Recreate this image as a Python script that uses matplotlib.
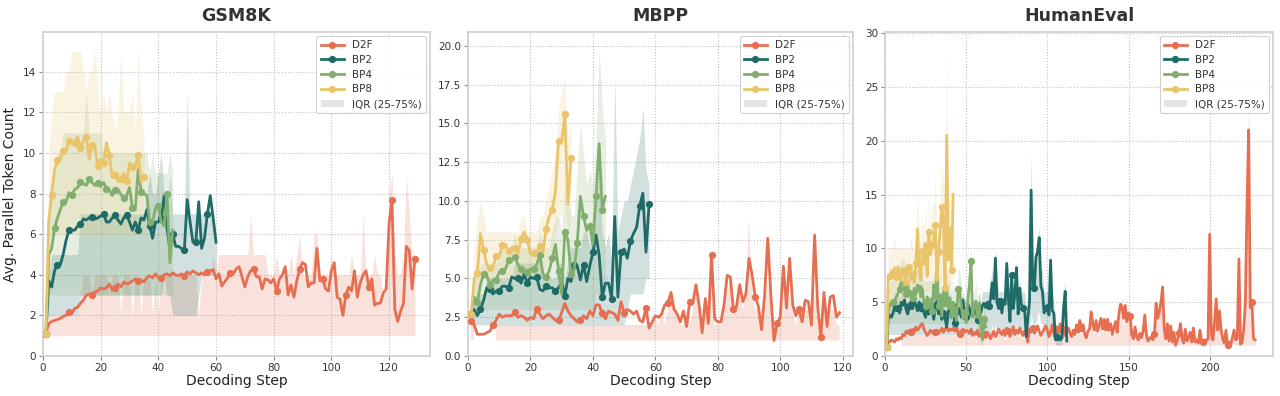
import numpy as np
import matplotlib
matplotlib.use("Agg")
import matplotlib.pyplot as plt
from matplotlib.lines import Line2D
from matplotlib.patches import Patch

nan = np.nan

titles = ["GSM8K", "MBPP", "HumanEval"]
series_names = ["D2F", "BP2", "BP4", "BP8"]
colors = {"D2F": "#E76F51", "BP2": "#1F6B68", "BP4": "#82AF6E", "BP8": "#E9C46A"}

# ---------------- GSM8K ----------------
gsm_d2f = [1.1, 1.6, 1.7, 1.75, 1.8, 1.85, 1.95, 2.0, 2.15, 2.1,
           2.35, 2.4, 2.6, 2.75, 3.0, 3.05, 3.0, 3.15, 3.2, 3.35,
           3.3, 3.35, 3.55, 3.25, 3.35, 3.55, 3.4, 3.65, 3.55, 3.6,
           3.7, 3.8, 3.7, 3.75, 3.65, 3.85, 3.95, 3.85, 4.05, 3.85,
           3.85, 4.0, 4.05, 3.95, 4.1, 4.0, 3.95, 4.05, 3.95, 4.15,
           4.05, 4.2, 4.1, 4.0, 4.1, 4.0, 4.15, 4.2, 4.25, 3.8,
           4.05, 3.45, 3.65, 3.85, 4.1, 4.05, 4.3, 4.4, 3.9, 3.4,
           3.9, 4.2, 4.3, 3.9, 3.9, 3.3, 3.8, 3.75, 3.6, 3.8,
           3.2, 3.8, 4.0, 4.4, 3.0, 3.5, 2.9, 3.7, 4.3, 4.6,
           4.5, 3.4, 3.6, 3.6, 5.3, 3.7, 3.8, 3.3, 3.2, 4.2,
           4.6, 2.9, 2.8, 2.0, 3.0, 3.4, 3.2, 4.2, 2.9, 3.6,
           4.0, 4.2, 3.4, 3.8, 2.5, 2.6, 2.6, 3.1, 3.3, 6.5,
           7.7, 2.3, 1.7, 2.2, 2.6, 5.4, 5.2, 3.3, 4.8]
gsm_d2f_q1 = [1.1] + [1] * 128
gsm_d2f_q3 = [1.1, 2, 2, 2, 2, 2, 2, 2, 2, 2, 2, 2,
              3, 4, 4, 4, 3, 4, 4, 4, 4, 4, 3, 4,
              4, 4, 2, 4, 4, 4, 2, 4, 4, 2, 4, 4,
              4, 2, 4, 2, 4, 4, 4, 4, 4, 4, 4, 4,
              4, 4, 4, 4, 4, 2, 4, 4, 4, 4, 5,
              4, 5, 5, 5, 5, 5, 5, 5, 5, 5, 5, 5,
              7, 5, 5, 5, 5, 5, 4, 4, 4, 5, 4, 4,
              4, 4, 5, 4, 5, 6, 4, 4, 4, 4, 6, 6,
              4, 4, 4, 4, 5, 4, 4, 4, 4, 4, 4, 5,
              4, 4, 4, 7, 4, 4, 4, 5, 4, 4, 3, 4,
              8, 9, 5, 4, 4, 5, 9, 7, 5, 5]

gsm_bp2 = [1.1, 3.7, 3.4, 4.2, 4.5, 4.5, 5.0, 5.7, 6.2, 6.2,
           6.2, 6.4, 6.5, 6.75, 6.7, 6.8, 6.85, 6.75, 6.8, 6.9,
           7.0, 6.6, 6.6, 6.8, 6.95, 6.7, 6.5, 6.8, 6.95, 6.6,
           6.2, 6.6, 6.2, 6.8, 6.7, 7.2, 6.4, 5.8, 6.6, 6.6,
           6.8, 7.9, 6.3, 5.3, 6.0, 5.4, 5.4, 5.3, 5.2, 7.7,
           6.6, 5.6, 5.6, 7.6, 5.3, 5.8, 7.0, 7.9, 6.8, 5.6]
gsm_bp2_q1 = [1.1, 2, 2, 2, 2, 2, 2, 2, 2, 2, 2, 2,
              3, 3, 3, 3, 3, 3, 3, 3, 3, 3, 3, 3,
              3, 3, 3, 3, 3, 3, 3, 3, 3, 3, 3, 3,
              3, 3, 3, 3, 3, 4, 3, 3, 2, 2, 2, 2,
              2, 2, 2, 2, 2, 3, 4, 4, 4, 4, 4, 4]
gsm_bp2_q3 = [1.1, 4, 5, 5, 5, 5, 5, 5, 5, 5, 5, 5,
              7, 7, 7, 7, 7, 7, 7, 7, 7, 7, 7, 7,
              7, 7, 7, 7, 7, 7, 7, 7, 7, 7, 7, 8,
              9, 8, 8, 9, 10, 8, 7, 9, 7, 7, 7, 7,
              7, 13, 7, 7, 7, 7, 7, 7, 7, 7, 7, 6]

gsm_bp4 = [1.1, 5.0, 5.3, 6.3, 6.8, 7.2, 7.6, 7.6, 8.05, 7.95,
           8.2, 8.3, 8.55, 8.5, 8.4, 8.7, 8.55, 8.4, 8.5, 8.35,
           8.55, 8.25, 8.2, 7.9, 8.2, 8.2, 7.95, 7.8, 7.9, 8.3,
           7.3, 7.2, 9.2, 8.1, 8.0, 7.9, 6.6, 6.6, 7.3, 7.4,
           6.6, 6.4, 8.0, 4.6, 6.2]
gsm_bp4_q1 = [1.1] + [3] * 44
gsm_bp4_q3 = [1.1, 7, 8, 9, 10, 10, 11, 11, 11, 11, 11, 11,
              11, 11, 13, 11, 11, 11, 11, 11, 10, 10, 10, 10,
              10, 10, 10, 10, 10, 10, 10, 10, 10, 10, 10, 10,
              9, 10, 9, 9, 9, 9, 9, 10, 9]

gsm_bp8 = [1.1, 6.7, 7.95, 9.2, 9.65, 9.7, 10.1, 10.1, 10.6, 10.55,
           10.5, 10.8, 10.25, 10.6, 10.8, 9.7, 10.4, 10.3, 9.35, 9.7,
           9.5, 10.5, 9.9, 8.8, 8.9, 8.6, 8.7, 9.0, 8.6, 9.5,
           9.3, 9.3, 9.9, 8.6, 8.8]
gsm_bp8_q1 = [1.1] + [6] * 34
gsm_bp8_q3 = [1.1, 10, 12, 13, 13, 13, 13, 14, 14, 15, 15, 15,
              15, 14, 13, 14, 14, 15, 13, 12, 13, 12, 13, 12,
              11, 12, 15, 12, 12, 12, 13, 11, 15.2, 12, 11]

# ---------------- MBPP ----------------
mbpp_d2f = [2.26, 2.0, 1.4, 1.4, 1.4, 1.5, 1.6, 2.0, 2.3, 2.7,
            2.5, 2.6, 2.6, 2.6, 2.85, 2.5, 2.6, 2.5, 2.3, 2.5,
            2.4, 3.0, 2.7, 2.4, 2.6, 2.7, 2.5, 2.3, 2.3, 2.8,
            3.4, 2.9, 2.6, 2.4, 2.2, 2.3, 2.6, 2.4, 2.9, 2.6,
            3.3, 3.3, 2.75, 2.4, 2.9, 2.8, 2.7, 2.3, 3.5, 2.8,
            3.0, 2.9, 2.7, 2.9, 2.3, 2.2, 3.1, 1.8, 2.2, 2.6,
            2.5, 2.7, 3.3, 3.4, 4.1, 3.0, 2.7, 2.2, 2.9, 1.9,
            3.5, 3.4, 4.6, 3.3, 1.5, 3.7, 2.1, 6.5, 2.4, 2.2,
            2.2, 3.3, 5.2, 5.1, 3.0, 3.2, 4.6, 3.5, 4.0, 6.3,
            5.2, 3.8, 3.2, 1.7, 3.9, 7.6, 3.9, 1.0, 2.1, 2.5,
            5.8, 3.1, 6.3, 3.3, 2.6, 3.0, 2.2, 3.6, 3.5, 2.0,
            7.8, 3.2, 1.2, 4.1, 1.9, 3.8, 3.9, 2.5, 2.8]
mbpp_d2f_q1 = [1, 1, nan, nan, nan, nan, nan, nan] + [1] * 111
mbpp_d2f_q3 = [2, 2, nan, nan, nan, nan, nan, nan, 2, 2, 2, 2,
               2, 2, 2, 2, 2, 2, 2, 2, 2, 2, 2, 2,
               2, 2, 2, 2, 2, 2, 2, 2, 2, 2, 2, 2,
               2, 2, 2, 2, 2, 2, 2, 2, 2, 2, 2, 2,
               2, 2, 2, 2, 2, 2, 2, 2, 2, 2, 2, 2.5,
               2, 3, 2, 3, 4, 3, 3, 2, 2, 3, 2, 3,
               4, 3, 2, 3, 2, 4, 2, 2, 2, 3, 4, 5,
               3, 3, 4, 3, 4, 9, 4, 3, 3, 2, 3, 5,
               3, 1, 2, 2, 4, 3, 4, 3, 2, 3, 2, 3,
               3, 3, 4, 3, 1, 3, 2, 3, 3, 2, 2]

mbpp_bp2 = [2.7, 3.0, 2.6, 3.0, 3.6, 4.4, 4.3, 4.0, 4.2, 4.2,
            4.5, 4.5, 4.4, 5.1, 5.0, 5.0, 4.7, 5.3, 4.7, 5.1,
            5.0, 5.1, 4.3, 4.2, 4.5, 4.4, 4.4, 4.2, 4.4, 4.8,
            3.9, 5.0, 4.8, 5.9, 5.8, 4.9, 5.9, 4.8, 5.8, 6.7,
            7.8, 6.5, 3.8, 4.7, 4.7, 3.7, 9.0, 3.8, 6.7, 6.9,
            6.3, 7.4, 7.9, 8.3, 9.7, 10.5, 6.7, 9.8]
mbpp_bp2_q1 = [2.7] + [2] * 49 + [3, 4, 4, 4, 4, 4, 5, 5]
mbpp_bp2_q3 = [2.7, 3.5, 4, 4, 4, 5, 5, 5, 5, 5, 5, 5,
               5, 5, 6, 6, 6, 6, 6, 6, 6, 6, 6, 5,
               5, 5, 5, 5, 6, 6, 5, 6, 7, 7, 7, 7,
               8, 8, 7, 9, 10, 12, 8, 7, 8, 6, 18, 8,
               9, 10, 10, 11, 12, 13, 14, 16, 12, 11]

mbpp_bp4 = [2.7, 3.8, 3.5, 4.6, 5.3, 5.2, 4.6, 4.9, 4.9, 5.4,
            5.5, 5.6, 6.2, 6.2, 6.4, 5.9, 5.6, 5.5, 5.45, 5.6,
            5.6, 5.9, 6.5, 5.3, 5.1, 5.5, 6.3, 7.2, 5.5, 4.0,
            8.0, 7.5, 5.3, 5.6, 7.3, 10.3, 9.0, 8.1, 8.4, 7.2,
            10.3, 13.7, 9.44, 10.3]
mbpp_bp4_q1 = [2.7] + [3] * 39 + [4, 4, 4, 4]
mbpp_bp4_q3 = [2.7, 5, 5, 6, 6, 6, 6, 6, 6, 7, 7, 7,
               7, 7, 8, 7, 7, 7, 7, 7, 7, 7, 8, 7,
               7, 7, 8, 9, 9, 8, 11, 10, 9, 9, 12, 15,
               13, 11, 12, 11, 14, 19.9, 16, 14]

mbpp_bp8 = [2.7, 5.0, 5.35, 7.9, 6.85, 5.9, 5.67, 5.7, 6.47, 6.4,
            7.18, 7.2, 6.75, 7.0, 6.96, 6.6, 7.54, 8.0, 7.5, 6.6,
            6.64, 6.6, 7.07, 6.7, 8.19, 9.0, 9.44, 10.6, 13.9, 13.8,
            15.6, 9.8, 12.8]
mbpp_bp8_q1 = [2.7, 4, 4, 5, 5, 5, 5, 5, 5, 5, 5, 5,
               5, 5, 5, 5, 5, 5, 5, 5, 5, 5, 5, 5,
               6, 6, 7, 8, 9, 9, 10, 8, 9]
mbpp_bp8_q3 = [2.7, 7, 9, 10, 9, 8, 8, 8, 8, 8, 8, 8,
               8, 8, 8, 8, 9, 9, 8, 8, 8, 8, 9, 9,
               10, 11, 12, 13, 16, 17, 18, 14, 15]

# ---------------- HumanEval ----------------
he_d2f = [0.8, 1.4, 1.3, 1.5, 1.4, 1.3, 1.6, 1.5, 1.7, 1.6,
          2.0, 1.9, 2.3, 2.1, 2.4, 2.2, 2.5, 2.2, 2.7, 2.4,
          2.6, 2.9, 3.0, 2.5, 2.2, 1.9, 2.1, 2.4, 2.2, 2.3,
          2.2, 2.4, 2.1, 2.3, 2.6, 2.2, 2.5, 2.7, 2.3, 2.5,
          2.4, 2.6, 2.3, 2.8, 2.2, 2.0, 2.3, 2.5, 2.2, 2.4,
          2.3, 2.1, 2.5, 1.9, 2.2, 2.0, 2.4, 1.8, 2.1, 2.3,
          2.0, 1.7, 2.2, 1.9, 1.6, 2.0, 2.3, 1.8, 2.1, 2.5,
          2.2, 2.0, 2.4, 1.9, 2.6, 2.3, 1.8, 2.2, 2.7, 2.0,
          2.4, 2.1, 2.6, 2.2, 1.9, 2.3, 2.0, 1.3, 2.5, 2.2,
          2.6, 2.1, 2.4, 2.8, 2.3, 1.9, 2.2, 2.5, 2.8, 2.4,
          1.8, 2.2, 2.9, 2.0, 1.6, 2.5, 2.2, 3.0, 2.1, 2.7,
          1.9, 2.3, 2.6, 2.1, 1.8, 2.4, 2.0, 2.9, 2.2, 3.3,
          2.6, 2.9, 2.0, 1.7, 2.3, 2.5, 4.1, 3.0, 2.4, 3.3,
          2.3, 2.9, 3.5, 2.5, 3.4, 2.7, 3.4, 2.4, 3.0, 2.0,
          2.6, 3.2, 2.2, 3.8, 4.8, 4.6, 3.5, 4.7, 3.2, 4.0,
          3.7, 2.0, 1.6, 2.7, 1.8, 1.5, 2.1, 1.7, 2.3, 3.8,
          2.0, 1.4, 1.6, 1.8, 1.5, 2.0, 4.9, 3.5, 4.1, 5.0,
          6.4, 2.5, 1.6, 3.0, 1.4, 2.8, 1.3, 2.2, 1.0, 1.4,
          2.1, 3.0, 1.6, 1.2, 2.5, 1.4, 1.7, 2.2, 1.3, 2.6,
          1.3, 1.5, 1.2, 2.4, 1.4, 1.3, 1.5, 1.4, 1.6, 11.3,
          2.0, 1.5, 3.2, 5.3, 2.4, 4.2, 2.5, 1.6, 1.2, 2.4,
          1.0, 1.3, 1.1, 1.7, 2.4, 1.5, 1.6, 9.0, 1.1, 1.3,
          2.5, 5.0, 14.0, 21.0, 4.5, 5.0, 1.6, 1.5]
he_d2f_q1 = [nan] * 9 + [1] * 219
he_d2f_q3 = [nan, nan, nan, nan, nan, nan, nan, nan, nan, 2, 2, 2,
             2, 2, 2, 2, 2, 2, 2, 2, 2, 2, 2, 2,
             2, 2, 2, 2, 2, 2, 2, 2, 2, 2, 2, 2,
             2, 2, 2, 2, 2, 2, 2, 2, 2, 2, 2, 2,
             2, 2, 2, 2, 2, 1.5, 2, 2, 2, 1.5, 2, 2,
             2, 1.5, 2, 2, 1.5, 2, 2, 1.5, 2, 2, 2, 2,
             2, 1.5, 2, 2, 1.5, 2, 2, 2, 2, 2, 2, 2,
             1.5, 2, 2, 1.5, 2, 2, 2, 2, 2, 2, 2, 1.5,
             2, 2, 2, 2, 1.5, 2, 2, 2, 1.5, 2, 2, 2,
             2, 2, 1.5, 2, 2, 2, 1.5, 2, 2, 2, 2, 3,
             2, 2, 2, 1.5, 2, 2, 4, 3, 2, 3, 2, 2,
             3, 2, 3, 2, 3, 2, 2, 2, 2, 3, 2, 3,
             5, 5, 3, 5, 3, 4, 3, 2, 1.5, 2, 1.5, 1.5,
             2, 1.5, 2, 3, 2, 1.5, 1.5, 1.5, 1.5, 2, 5, 3,
             4, 5, 7, 2, 1.5, 3, 1.5, 2, 1.5, 2, 1, 1.5,
             2, 3, 1.5, 1, 2, 1.5, 1.5, 2, 1.5, 2, 1.5, 1.5,
             1, 2, 1.5, 1.5, 1.5, 1.5, 1.5, 12, 2, 1.5, 3, 6,
             2, 4, 2, 1.5, 1, 2, 1, 1.5, 1, 1.5, 2, 1.5,
             1.5, 10, 1, 1.5, 2, 5, 15, 25, 6, 5, 1.5, 1.5]

he_bp2 = [0.8, 3.5, 3.8, 3.6, 4.0, 4.7, 4.2, 4.5, 4.0, 5.0,
          4.7, 5.2, 4.3, 3.9, 4.6, 5.0, 4.4, 5.2, 4.7, 4.2,
          5.0, 4.5, 4.8, 4.0, 3.6, 4.4, 3.9, 4.3, 4.7, 3.4,
          4.5, 5.1, 3.9, 4.6, 3.4, 4.0, 3.5, 2.7, 4.1, 4.6,
          3.6, 4.5, 3.1, 4.8, 3.9, 4.4, 3.6, 5.2, 4.0, 3.6,
          4.8, 4.4, 3.8, 4.5, 3.9, 4.2, 3.3, 4.8, 4.0, 4.7,
          4.9, 4.5, 5.0, 4.6, 5.3, 6.8, 5.3, 9.1, 5.0, 4.4,
          5.1, 4.0, 5.2, 4.8, 8.6, 5.3, 3.2, 7.5, 4.4, 5.7,
          8.2, 3.9, 6.3, 4.8, 4.5, 4.4, 1.8, 3.5, 5.0, 15.4,
          6.5, 6.3, 9.2, 9.7, 11.0, 6.5, 6.0, 4.0, 4.5, 4.7,
          3.8, 8.9, 4.2, 4.0, 1.5, 1.8, 1.9, 1.5, 1.7, 4.5,
          6.0, 1.4]
he_bp2_q1 = [0.8, 2, 2, 2, 2, 2, 2, 2, 2, 2, 2, 2,
             2, 2, 2, 2, 2, 2, 2, 2, 2, 2, 2, 2,
             2, 2, 2, 2, 2, 2, 2, 2, 2, 2, 2, 2,
             2, 2, 2, 2, 2, 2, 2, 2, 2, 2, 2, 2,
             2, 2, 2, 2, 2, 2, 2, 2, 2, 2, 2, 2,
             2, 2, 2, 2, 2, 3, 2, 3, 2, 2, 2, 2,
             2, 2, 3, 2, 2, 2, 2, 2, 3, 2, 2, 2,
             2, 2, 1, 2, 2, 4, 3, 3, 3, 4, 4, 3,
             3, 2, 2, 2, 2, 3, 2, 2, 1, 1, 1, 1,
             1, 2, 2, 1]
he_bp2_q3 = [0.8, 5, 5, 5, 5, 6, 5, 6, 5, 6, 6, 6,
             5, 5, 6, 6, 5, 6, 6, 5, 6, 5, 6, 5,
             5, 5, 5, 5, 6, 5, 6, 6, 5, 6, 5, 5,
             5, 4, 5, 6, 5, 5, 4, 6, 5, 5, 5, 6,
             5, 5, 6, 5, 5, 5, 5, 5, 5, 6, 5, 6,
             6, 6, 6, 6, 7, 8, 7, 10, 7, 6, 6, 6,
             6, 6, 9, 7, 5, 8, 6, 7, 9, 5, 7, 6,
             6, 6, 4, 5, 7, 19, 8, 8, 10, 11, 12, 8,
             8, 6, 6, 6, 5, 10, 6, 5, 3, 3, 3, 3,
             3, 6, 7, 3]

he_bp4 = [0.8, 4.2, 4.8, 4.7, 5.0, 5.1, 5.5, 5.8, 6.2, 6.9,
          6.8, 6.5, 5.8, 6.7, 5.6, 6.0, 5.4, 6.3, 5.7, 6.6,
          6.3, 5.5, 6.2, 5.0, 4.6, 5.5, 4.7, 5.3, 4.2, 6.6,
          5.3, 8.1, 4.6, 5.7, 3.7, 6.0, 4.9, 6.4, 4.4, 5.4,
          3.9, 5.0, 4.3, 3.3, 6.2, 6.0, 4.6, 3.5, 4.1, 3.1,
          5.2, 6.6, 8.8, 3.6, 4.5, 5.1, 3.8, 4.9, 2.8, 1.5,
          3.4, 2.7]
he_bp4_q1 = [0.8] + [3] * 55 + [2, 2, 1, 1, 2, 2]
he_bp4_q3 = [0.8, 6, 7, 7, 7, 7, 8, 8, 8, 9, 9, 9,
             8, 9, 8, 8, 8, 8, 8, 9, 8, 8, 8, 7,
             7, 7, 7, 7, 7, 8, 7, 10, 7, 8, 6, 8,
             7, 8, 7, 7, 6, 7, 6, 5, 8, 8, 7, 5,
             6, 5, 7, 8, 10, 5, 6, 7, 5, 6, 4, 2,
             5, 4]

he_bp8 = [0.8, 7.5, 7.4, 7.9, 7.6, 8.2, 7.3, 8.3, 7.7, 7.0,
          8.0, 7.5, 6.9, 7.9, 8.3, 7.1, 7.6, 6.8, 8.6, 11.8,
          8.6, 7.0, 9.8, 8.5, 10.3, 7.4, 11.5, 9.4, 10.3, 10.8,
          12.2, 7.0, 9.7, 11.7, 13.8, 12.6, 6.3, 20.5, 9.2, 11.9,
          8.0, 15.0]
he_bp8_q1 = [0.8, 5, 5, 5, 5, 5, 5, 5, 5, 5, 5, 5,
             5, 5, 5, 5, 5, 5, 5, 6, 6, 6, 6, 6,
             6, 6, 6, 6, 6, 7, 6, 6, 6, 7, 7, 5,
             5, 8, 6, 7, 6, 8]
he_bp8_q3 = [0.8, 10, 10, 10, 10, 11, 10, 10, 10, 10, 10, 10,
             10, 10, 10, 11, 10, 10, 12, 15, 12, 10, 13, 11,
             14, 10, 15, 12, 14, 14, 17, 10, 13, 15, 18, 16,
             10, 28.7, 13, 16, 11, 19]

y_ticks = [[0, 2, 4, 6, 8, 10, 12, 14],
           [0, 2.5, 5, 7.5, 10, 12.5, 15, 17.5, 20],
           [0, 5, 10, 15, 20, 25, 30]]
y_ticklabels = [["0", "2", "4", "6", "8", "10", "12", "14"],
                ["0.0", "2.5", "5.0", "7.5", "10.0", "12.5", "15.0", "17.5", "20.0"],
                ["0", "5", "10", "15", "20", "25", "30"]]
x_ticks = [[0, 20, 40, 60, 80, 100, 120],
           [0, 20, 40, 60, 80, 100, 120],
           [0, 50, 100, 150, 200]]
y_limits = [15.96, 20.9, 30.1]
x_limits = [134.2, 123.3, 239.0]

panels = [
    {"D2F": (gsm_d2f, gsm_d2f_q1, gsm_d2f_q3), "BP2": (gsm_bp2, gsm_bp2_q1, gsm_bp2_q3),
     "BP4": (gsm_bp4, gsm_bp4_q1, gsm_bp4_q3), "BP8": (gsm_bp8, gsm_bp8_q1, gsm_bp8_q3)},
    {"D2F": (mbpp_d2f, mbpp_d2f_q1, mbpp_d2f_q3), "BP2": (mbpp_bp2, mbpp_bp2_q1, mbpp_bp2_q3),
     "BP4": (mbpp_bp4, mbpp_bp4_q1, mbpp_bp4_q3), "BP8": (mbpp_bp8, mbpp_bp8_q1, mbpp_bp8_q3)},
    {"D2F": (he_d2f, he_d2f_q1, he_d2f_q3), "BP2": (he_bp2, he_bp2_q1, he_bp2_q3),
     "BP4": (he_bp4, he_bp4_q1, he_bp4_q3), "BP8": (he_bp8, he_bp8_q1, he_bp8_q3)},
]

fig = plt.figure(figsize=(12.8, 3.96), dpi=100)
W, H = 1280.0, 396.0
boxes = [(43, 387), (468, 385), (885, 388)]
top_px, bot_px = 32, 356

for i, (title, data) in enumerate(zip(titles, panels)):
    left, width = boxes[i]
    ax = fig.add_axes([left / W, 1 - bot_px / H, width / W, (bot_px - top_px) / H])
    # IQR bands first
    for name in series_names:
        vals, q1, q3 = data[name]
        steps = np.arange(1, len(vals) + 1)
        ax.fill_between(steps, np.array(q1, dtype=float), np.array(q3, dtype=float),
                        color=colors[name], alpha=0.2, linewidth=0, zorder=1)
    for name in series_names:
        vals, q1, q3 = data[name]
        steps = np.arange(1, len(vals) + 1)
        ax.plot(steps, vals, color=colors[name], lw=2.0, marker="o", ms=4.2,
                markevery=max(1, len(vals) // 15), zorder=3, label=name)
    ax.set_xlim(0, x_limits[i])
    ax.set_ylim(0, y_limits[i])
    ax.set_xticks(x_ticks[i])
    ax.set_yticks(y_ticks[i])
    ax.set_yticklabels(y_ticklabels[i])
    ax.grid(True, linestyle=":", color="#b0b0b0", linewidth=0.8, alpha=0.8, zorder=0)
    ax.set_axisbelow(True)
    for sp in ax.spines.values():
        sp.set_color("#d0d0d0")
        sp.set_linewidth(1.2)
    ax.tick_params(axis="both", labelsize=7.5, length=3, width=0.8, color="#888888",
                   labelcolor="#333333", pad=2)
    ax.set_title(title, fontsize=12.5, fontweight="bold", color="#333333", pad=8)
    ax.set_xlabel("Decoding Step", fontsize=10, color="#222222", labelpad=1)
    if i == 0:
        ax.set_ylabel("Avg. Parallel Token Count", fontsize=10, color="#222222", labelpad=4)
    handles = [Line2D([0], [0], color=colors[n], lw=2.0, marker="o", ms=4.2) for n in series_names]
    handles.append(Patch(facecolor="gray", alpha=0.2, edgecolor="none"))
    labels = series_names + ["IQR (25-75%)"]
    leg = ax.legend(handles, labels, loc="upper right", fontsize=7.5, frameon=True,
                    framealpha=0.9, edgecolor="#cccccc", borderaxespad=0.4,
                    handlelength=2.2, labelspacing=0.45, markerscale=1.0)
    leg.get_frame().set_linewidth(0.8)
    for t in leg.get_texts():
        t.set_color("#333333")

fig.savefig("out.png", dpi=100, facecolor="white")
